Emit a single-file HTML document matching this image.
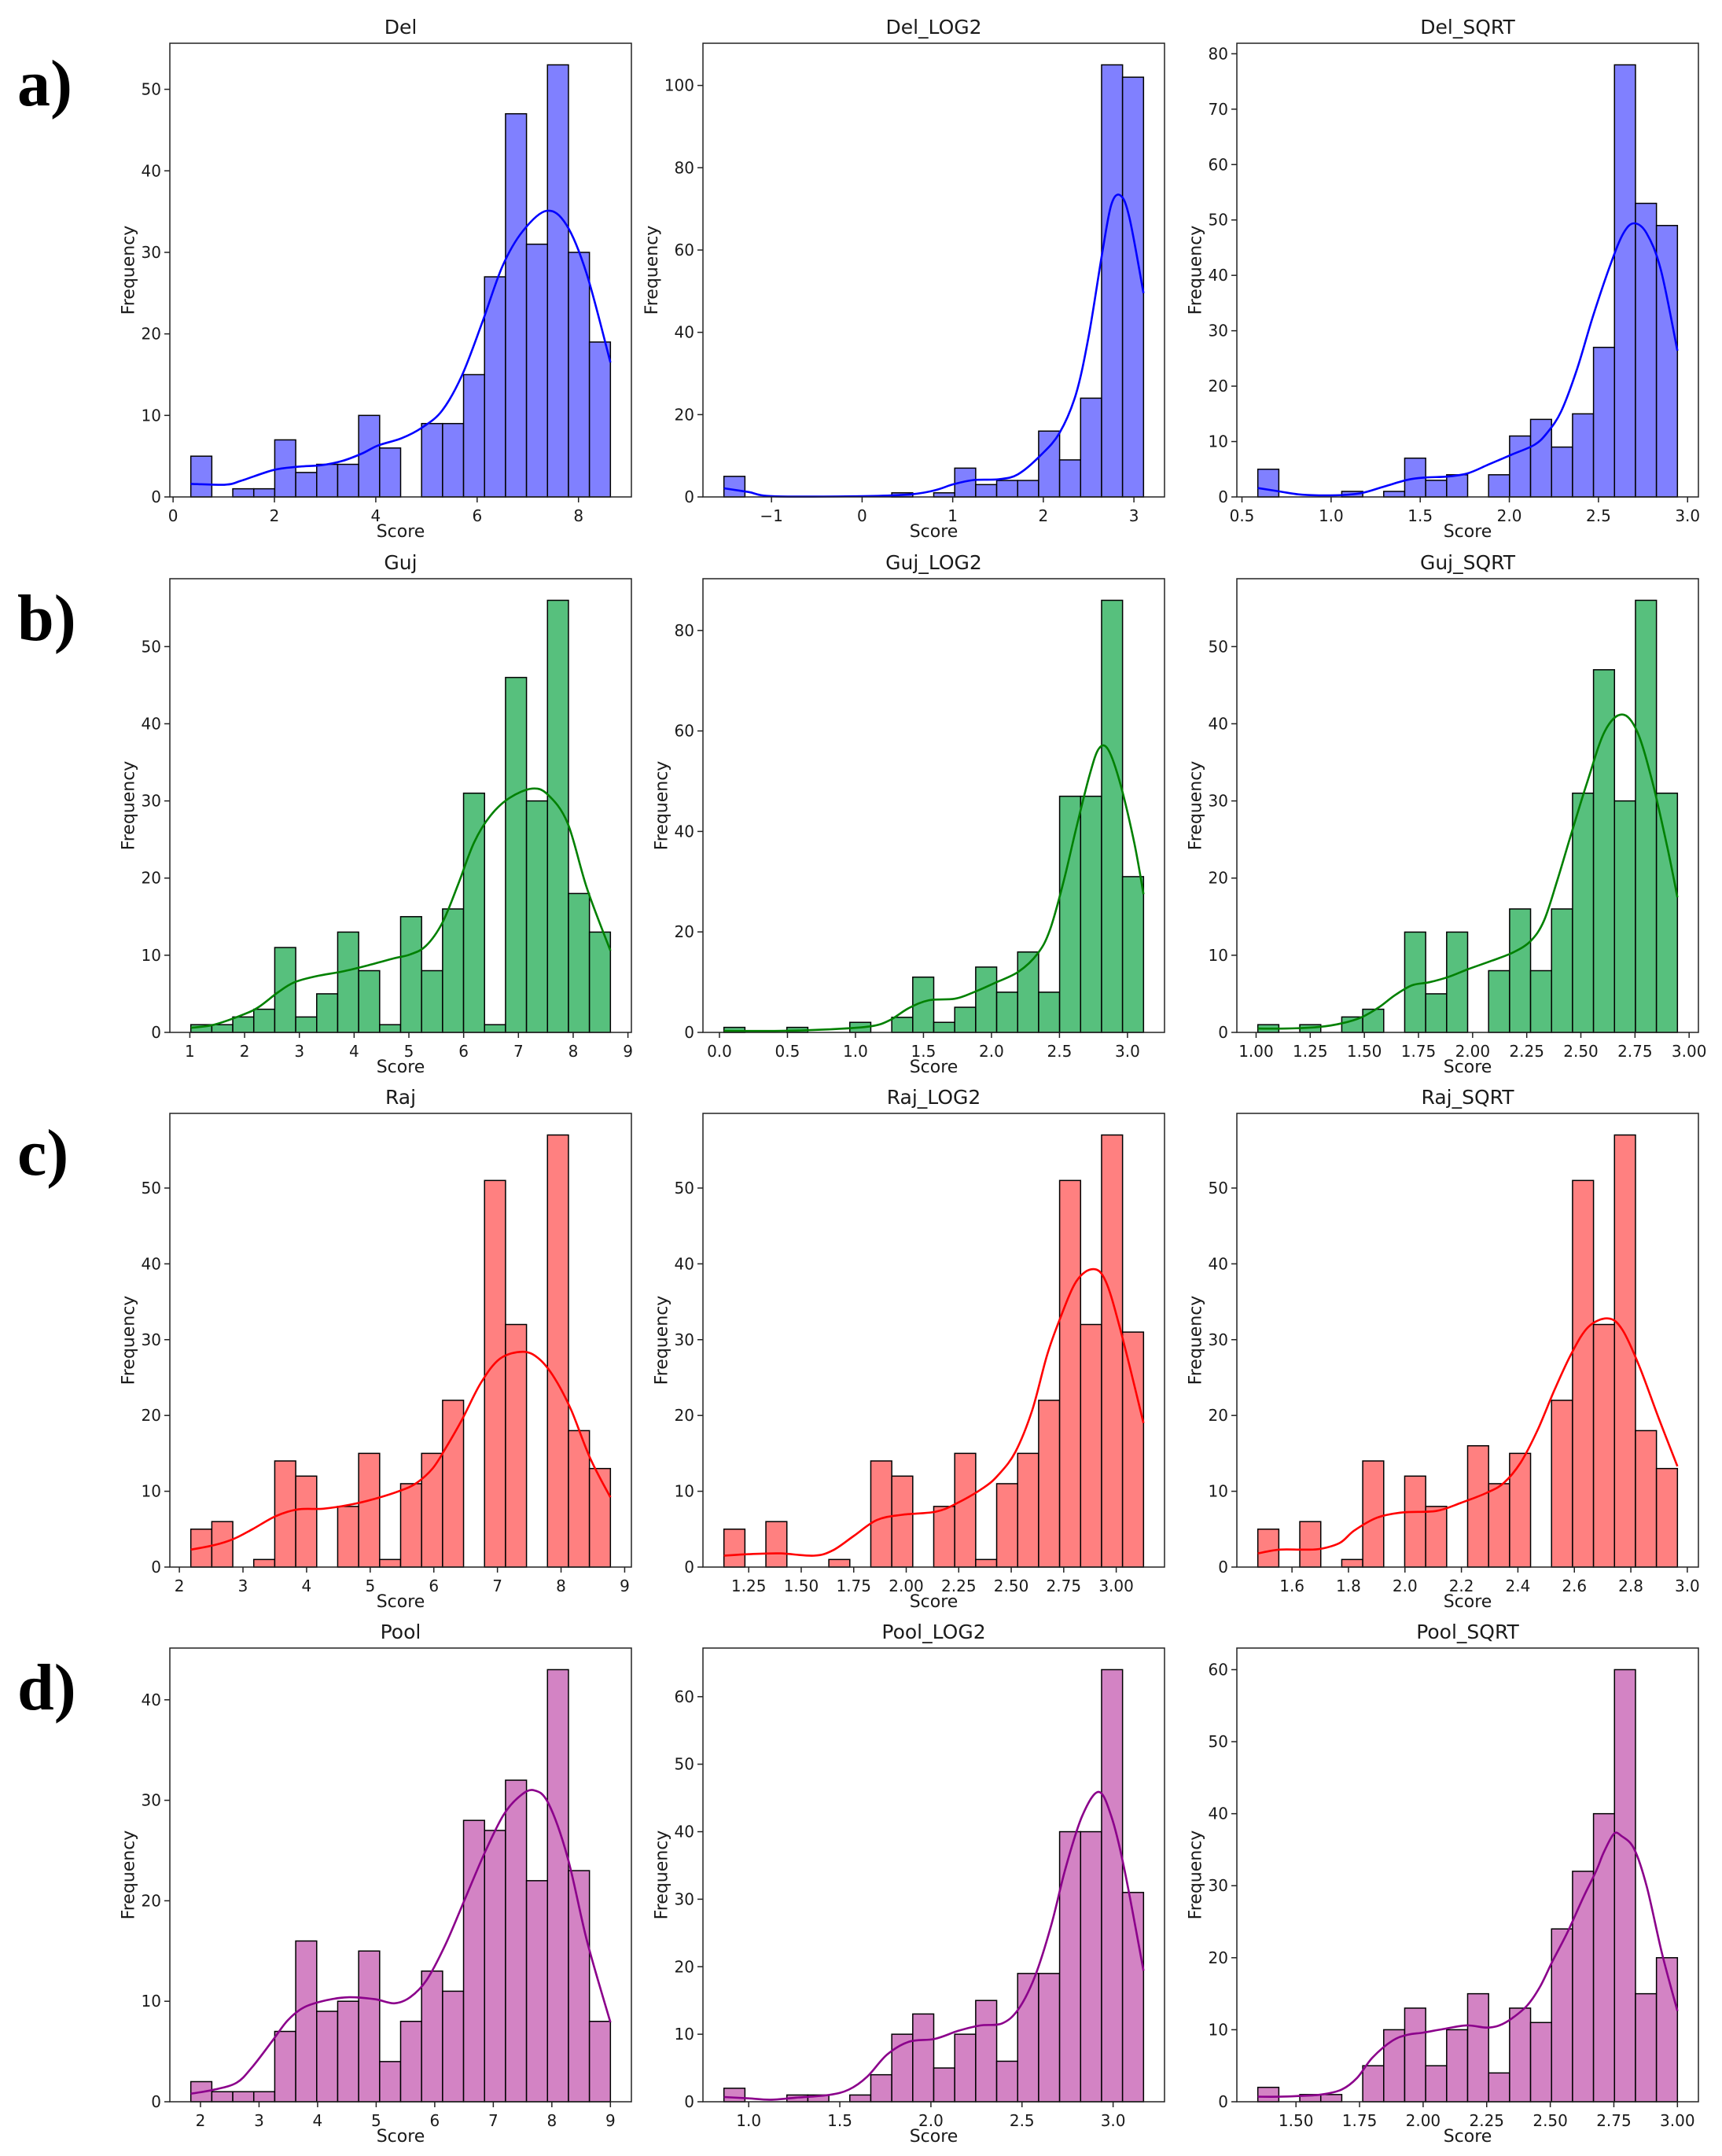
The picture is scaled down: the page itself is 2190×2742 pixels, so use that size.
<!DOCTYPE html>
<html><head><meta charset="utf-8"><style>
html,body{margin:0;padding:0;background:#fff}
svg{display:block}
text{font-family:"DejaVu Sans","Liberation Sans",sans-serif;fill:#1a1a1a}
.lbl{font-family:"Liberation Serif",serif;font-weight:bold;fill:#000}
</style></head><body>
<svg id="fig" width="2190" height="2742" viewBox="0 0 2190 2742" xmlns="http://www.w3.org/2000/svg"></svg>
<script>
// ---------- data ----------
const delRange=[0.35,8.63];
const delCounts=[5,0,1,1,7,3,4,4,10,6,0,9,9,15,27,47,31,53,30,19];
const delKdeX=[0.35,1.03,1.35,1.98,2.46,2.93,3.33,3.72,4.04,4.51,4.91,5.31,5.7,6.1,6.5,6.9,7.37,7.76,8.16,8.63];
const delKdeY=[1.6,1.5,2.0,3.3,3.7,3.9,4.4,5.3,6.3,7.2,8.5,10.6,14.9,21.4,28.3,32.6,35.1,33.4,27.4,16.5];
const delXTicks=["0","2","4","6","8"];
const delYTicks=[0,10,20,30,40,50];

const delLogRange=[-1.525,3.106];
const delLogCounts=[5,0,0,0,0,0,0,0,1,0,1,7,3,4,4,16,9,24,105,102];
const delLogKdeX=[-1.525,-1.255,-0.97,0,0.52,0.80,1.01,1.23,1.51,1.72,1.97,2.18,2.36,2.50,2.65,2.75,2.85,2.95,3.106];
const delLogKdeY=[2.1,1.2,0.15,0.2,0.6,1.6,3.1,4.1,4.3,5.5,10.1,15.6,25,39,59.3,71,73.3,67.9,49.5];
const delLogXTicks=["−1","0","1","2","3"];
const delLogYTicks=[0,20,40,60,80,100];

const delSqrtRange=[0.589,2.943];
const delSqrtCounts=[5,0,0,0,1,0,1,7,3,4,0,4,11,14,9,15,27,78,53,49];
const delSqrtKdeX=[0.589,0.71,0.84,1.026,1.17,1.30,1.43,1.53,1.66,1.77,1.88,2.01,2.14,2.21,2.29,2.38,2.47,2.57,2.64,2.70,2.77,2.85,2.943];
const delSqrtKdeY=[1.6,1.0,0.4,0.3,0.7,1.9,3.1,3.5,3.7,4.3,5.8,7.6,9.4,11.5,15.4,23.1,32.7,42.2,47.6,49.4,47.6,41,26.4];
const delSqrtXTicks=["0.5","1.0","1.5","2.0","2.5","3.0"];
const delSqrtYTicks=[0,10,20,30,40,50,60,70,80];

const gujRange=[1.018,8.68];
const gujCounts=[1,1,2,3,11,2,5,13,8,1,15,8,16,31,1,46,30,56,18,13];
const gujKdeX=[1.02,1.44,1.97,2.26,2.61,2.91,3.32,3.79,4.26,4.73,5.02,5.31,5.61,5.90,6.19,6.49,6.84,7.25,7.54,7.90,8.25,8.68];
const gujKdeY=[0.6,1.0,2.3,3.3,5.2,6.5,7.3,7.9,8.7,9.6,10.1,11.2,14.2,19.2,24.6,28.1,30.4,31.6,30.8,27.1,18.7,10.6];
const gujXTicks=["1","2","3","4","5","6","7","8","9"];
const gujYTicks=[0,10,20,30,40,50];

const gujLogRange=[0.033,3.118];
const gujLogCounts=[1,0,0,1,0,0,2,0,3,11,2,5,13,8,16,8,47,47,86,31];
const gujLogKdeX=[0.033,0.45,0.80,1.11,1.25,1.39,1.54,1.73,1.87,2.03,2.20,2.34,2.43,2.53,2.62,2.72,2.79,2.86,2.95,3.05,3.118];
const gujLogKdeY=[0.3,0.3,0.6,1.2,2.4,4.8,6.4,6.7,8.0,9.9,12.1,15.7,20.4,30,40.3,51.1,56.5,56.2,49.2,37.7,27.5];
const gujLogXTicks=["0.0","0.5","1.0","1.5","2.0","2.5","3.0"];
const gujLogYTicks=[0,20,40,60,80];

const gujSqrtRange=[1.008,2.946];
const gujSqrtCounts=[1,0,1,0,2,3,0,13,5,13,0,8,16,8,16,31,47,30,56,31];
const gujSqrtKdeX=[1.008,1.14,1.29,1.40,1.49,1.57,1.64,1.72,1.80,1.89,1.98,2.09,2.19,2.27,2.33,2.39,2.45,2.53,2.61,2.69,2.76,2.83,2.90,2.946];
const gujSqrtKdeY=[0.5,0.5,0.7,1.2,2.0,3.3,4.8,6.1,6.5,7.2,8.2,9.3,10.4,11.9,14.5,19.6,25.2,32.5,39,41.2,39,32.5,23.9,17.5];
const gujSqrtXTicks=["1.00","1.25","1.50","1.75","2.00","2.25","2.50","2.75","3.00"];
const gujSqrtYTicks=[0,10,20,30,40,50];

const rajRange=[2.18,8.776];
const rajCounts=[5,6,0,1,14,12,0,8,15,1,11,15,22,0,51,32,0,57,18,13];
const rajKdeX=[2.18,2.55,2.85,3.15,3.51,3.86,4.26,4.67,5.07,5.48,5.73,5.98,6.18,6.44,6.74,7.04,7.40,7.65,7.90,8.16,8.46,8.776];
const rajKdeY=[2.3,2.9,3.7,5.0,6.7,7.6,7.7,8.2,9.0,10.1,11.1,13.0,15.6,19.4,24.3,27.5,28.4,27.5,24.9,20.7,14.3,9.2];
const rajXTicks=["2","3","4","5","6","7","8","9"];
const rajYTicks=[0,10,20,30,40,50];

const rajLogRange=[1.132,3.13];
const rajLogCounts=[5,0,6,0,0,1,0,14,12,0,8,15,1,11,15,22,51,32,57,31];
const rajLogKdeX=[1.132,1.25,1.40,1.56,1.65,1.75,1.86,1.98,2.14,2.24,2.37,2.44,2.52,2.60,2.67,2.73,2.81,2.89,2.95,3.02,3.13];
const rajLogKdeY=[1.5,1.7,1.8,1.5,2.2,4.1,6.2,6.9,7.3,8.4,10.5,12.2,15.2,20.7,27.9,32.6,37.7,39.3,37.7,31.3,19.0];
const rajLogXTicks=["1.25","1.50","1.75","2.00","2.25","2.50","2.75","3.00"];
const rajLogYTicks=[0,10,20,30,40,50];

const rajSqrtRange=[1.479,2.965];
const rajSqrtCounts=[5,0,6,0,1,14,0,12,8,0,16,11,15,0,22,51,32,57,18,13];
const rajSqrtKdeX=[1.479,1.555,1.64,1.70,1.77,1.82,1.90,1.99,2.11,2.20,2.29,2.35,2.41,2.47,2.53,2.59,2.65,2.72,2.77,2.83,2.90,2.965];
const rajSqrtKdeY=[1.8,2.3,2.3,2.4,3.2,4.8,6.5,7.2,7.4,8.5,9.8,11.1,13.8,18.1,23.4,28.2,31.7,32.8,31.3,26.5,19.5,13.3];
const rajSqrtXTicks=["1.6","1.8","2.0","2.2","2.4","2.6","2.8","3.0"];
const rajSqrtYTicks=[0,10,20,30,40,50];

const poolRange=[1.835,9.0];
const poolCounts=[2,1,1,1,7,16,9,10,15,4,8,13,11,28,27,32,22,43,23,8];
const poolKdeX=[1.835,2.23,2.62,2.89,3.22,3.49,3.77,4.15,4.54,4.98,5.31,5.58,5.86,6.18,6.51,6.84,7.17,7.45,7.69,7.94,8.27,8.60,9.0];
const poolKdeY=[0.8,1.2,1.9,3.5,6.0,8.1,9.4,10.1,10.4,10.2,9.8,10.4,12.1,15.6,20.1,24.6,28.5,30.4,31.0,29.7,24.3,16.0,7.9];
const poolXTicks=["2","3","4","5","6","7","8","9"];
const poolYTicks=[0,10,20,30,40];

const poolLogRange=[0.864,3.167];
const poolLogCounts=[2,0,0,1,1,0,1,4,10,13,5,10,15,6,19,19,40,40,64,31];
const poolLogKdeX=[0.864,1.0,1.12,1.26,1.44,1.55,1.65,1.76,1.88,2.02,2.15,2.27,2.39,2.48,2.57,2.66,2.74,2.83,2.92,2.99,3.06,3.167];
const poolLogKdeY=[0.7,0.5,0.3,0.6,1.0,1.8,3.7,7.0,8.9,9.3,10.5,11.3,11.6,13.7,18.5,26.1,34.7,42.3,45.9,42.3,34.7,19.4];
const poolLogXTicks=["1.0","1.5","2.0","2.5","3.0"];
const poolLogYTicks=[0,10,20,30,40,50,60];

const poolSqrtRange=[1.35,3.0];
const poolSqrtCounts=[2,0,1,1,0,5,10,13,5,10,15,4,13,11,24,32,40,60,15,20];
const poolSqrtKdeX=[1.35,1.434,1.51,1.60,1.68,1.74,1.80,1.88,1.94,2.0,2.08,2.17,2.25,2.30,2.35,2.41,2.46,2.51,2.57,2.63,2.68,2.71,2.75,2.78,2.83,2.88,2.94,3.0];
const poolSqrtKdeY=[0.7,0.7,0.8,1.0,1.7,3.3,6.1,8.5,9.3,9.6,10.1,10.6,10.3,10.6,11.6,13.4,16.0,19.6,23.7,28.4,32.0,34.6,37.2,36.9,35.1,29.8,20.5,12.6];
const poolSqrtXTicks=["1.50","1.75","2.00","2.25","2.50","2.75","3.00"];
const poolSqrtYTicks=[0,10,20,30,40,50,60];

// ---------- layout ----------
const colL=[216,894,1573], axW=587, rowT=[55,736,1416,2096], axH=577;
const styles={
  blue:{fill:"#8080ff",line:"#0000ff"},
  green:{fill:"#57c07d",line:"#008000"},
  red:{fill:"#ff8080",line:"#ff0000"},
  purple:{fill:"#d383c4",line:"#8b008b"}
};
const panels=[
 ["Del",0,0,"blue",delRange,delCounts,delKdeX,delKdeY,delXTicks,delYTicks],
 ["Del_LOG2",0,1,"blue",delLogRange,delLogCounts,delLogKdeX,delLogKdeY,delLogXTicks,delLogYTicks],
 ["Del_SQRT",0,2,"blue",delSqrtRange,delSqrtCounts,delSqrtKdeX,delSqrtKdeY,delSqrtXTicks,delSqrtYTicks],
 ["Guj",1,0,"green",gujRange,gujCounts,gujKdeX,gujKdeY,gujXTicks,gujYTicks],
 ["Guj_LOG2",1,1,"green",gujLogRange,gujLogCounts,gujLogKdeX,gujLogKdeY,gujLogXTicks,gujLogYTicks],
 ["Guj_SQRT",1,2,"green",gujSqrtRange,gujSqrtCounts,gujSqrtKdeX,gujSqrtKdeY,gujSqrtXTicks,gujSqrtYTicks],
 ["Raj",2,0,"red",rajRange,rajCounts,rajKdeX,rajKdeY,rajXTicks,rajYTicks],
 ["Raj_LOG2",2,1,"red",rajLogRange,rajLogCounts,rajLogKdeX,rajLogKdeY,rajLogXTicks,rajLogYTicks],
 ["Raj_SQRT",2,2,"red",rajSqrtRange,rajSqrtCounts,rajSqrtKdeX,rajSqrtKdeY,rajSqrtXTicks,rajSqrtYTicks],
 ["Pool",3,0,"purple",poolRange,poolCounts,poolKdeX,poolKdeY,poolXTicks,poolYTicks],
 ["Pool_LOG2",3,1,"purple",poolLogRange,poolLogCounts,poolLogKdeX,poolLogKdeY,poolLogXTicks,poolLogYTicks],
 ["Pool_SQRT",3,2,"purple",poolSqrtRange,poolSqrtCounts,poolSqrtKdeX,poolSqrtKdeY,poolSqrtXTicks,poolSqrtYTicks]
];
const rowLetters=["a)","b)","c)","d)"];

const NS="http://www.w3.org/2000/svg";
const fig=document.getElementById("fig");
function mk(tag,attrs,parent,txt){
  const e=document.createElementNS(NS,tag);
  for(const k in attrs)e.setAttribute(k,attrs[k]);
  if(txt!==undefined)e.textContent=txt;
  parent.appendChild(e);return e;
}
function smoothPath(pts){
  let d="M"+pts[0][0].toFixed(1)+","+pts[0][1].toFixed(1);
  for(let i=0;i<pts.length-1;i++){
    const p0=pts[Math.max(0,i-1)],p1=pts[i],p2=pts[i+1],p3=pts[Math.min(pts.length-1,i+2)];
    const c1=[p1[0]+(p2[0]-p0[0])/6,p1[1]+(p2[1]-p0[1])/6];
    const c2=[p2[0]-(p3[0]-p1[0])/6,p2[1]-(p3[1]-p1[1])/6];
    d+=" C"+c1[0].toFixed(1)+","+c1[1].toFixed(1)+" "+c2[0].toFixed(1)+","+c2[1].toFixed(1)+" "+p2[0].toFixed(1)+","+p2[1].toFixed(1);
  }
  return d;
}
function ytW(yt){const m=Math.max(...yt.map(v=>String(v).length));return m*12.7+11;}

rowLetters.forEach((t,i)=>{
  const el=mk("text",{x:22,y:134+i*680,"font-size":84,class:"lbl"},fig,t);
  
  
});

panels.forEach(p=>{
  const [title,r,c,sty,range,counts,kx,ky,xt,yt]=p;
  const L=colL[c],T=rowT[r],R=L+axW,B=T+axH;
  const w=range[1]-range[0];
  const x0=range[0]-0.05*w,x1=range[1]+0.05*w;
  const ymax=Math.max(...counts)*1.05;
  const sx=v=>L+(v-x0)/(x1-x0)*axW;
  const sy=v=>B-v/ymax*axH;
  const key=title.toLowerCase().replace("_","-");
  const g=mk("g",{},fig);
  
  
  const tt=mk("text",{x:(L+R)/2,y:T-12,"font-size":25,"text-anchor":"middle"},g,title);
  
  
  const n=counts.length,bw=w/n;
  counts.forEach((v,i)=>{
    if(v<=0)return;
    const xa=sx(range[0]+i*bw),xb=sx(range[0]+(i+1)*bw);
    const b=mk("rect",{x:xa,y:sy(v),width:xb-xa,height:B-sy(v),fill:styles[sty].fill,stroke:"#000","stroke-width":1.5},g);
    
    
  });
  const pts=kx.map((x,i)=>[sx(x),sy(ky[i])]);
  const k=mk("path",{d:smoothPath(pts),fill:"none",stroke:styles[sty].line,"stroke-width":2.6},g);
  
  
  const fr=mk("rect",{x:L,y:T,width:axW,height:axH,fill:"none",stroke:"#222","stroke-width":1.5},g);
  
  
  xt.forEach(s=>{
    const v=parseFloat(s.replace("−","-"));
    const x=sx(v);
    mk("line",{x1:x,y1:B,x2:x,y2:B+7,stroke:"#222","stroke-width":1.5},g);
    const tl=mk("text",{x:x,y:B+31,"font-size":20,"text-anchor":"middle"},g,s);
    
    
  });
  yt.forEach(v=>{
    const y=sy(v);
    mk("line",{x1:L-7,y1:y,x2:L,y2:y,stroke:"#222","stroke-width":1.5},g);
    const tl=mk("text",{x:L-11,y:y+7,"font-size":20,"text-anchor":"end"},g,String(v));
    
    
  });
  const xl=mk("text",{x:(L+R)/2,y:B+51,"font-size":22,"text-anchor":"middle"},g,"Score");
  
  
  const yx=L-ytW(yt)-9, yy=(T+B)/2;
  const yl=mk("text",{x:yx,y:yy,"font-size":22,"text-anchor":"middle",transform:"rotate(-90 "+yx+" "+yy+")"},g,"Frequency");
  
  
});
</script>
</body></html>
